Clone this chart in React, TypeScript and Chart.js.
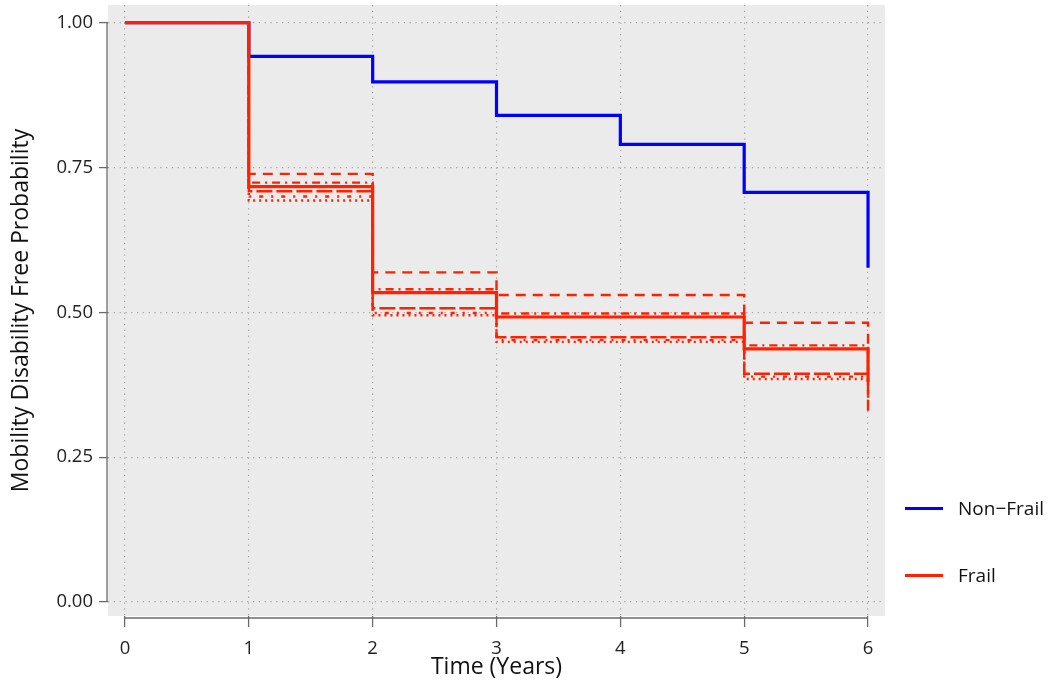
import React, { useEffect, useRef } from 'react';
import { Chart, registerables } from 'chart.js';

Chart.register(...registerables);

// Step times (years)
const nonFrailTimes = [0, 1, 2, 3, 4, 5, 6];
const frailTimes = [0, 1, 2, 3, 5, 6];

// Non-frail survival (mobility-disability-free probability)
const nonFrailValues = [1.0, 0.942, 0.898, 0.84, 0.79, 0.707, 0.577];

// Frail curves (one per line type)
const frailDashed = [1.0, 0.739, 0.569, 0.53, 0.482, 0.43];
const frailDotDash = [1.0, 0.724, 0.54, 0.498, 0.443, 0.4];
const frailSolid = [1.0, 0.717, 0.534, 0.492, 0.437, 0.38];
const frailLongDash = [1.0, 0.709, 0.507, 0.457, 0.394, 0.33];
const frailTwoDash = [1.0, 0.7, 0.499, 0.452, 0.389, 0.36];
const frailDotted = [1.0, 0.693, 0.495, 0.449, 0.385, 0.35];

const xTicks = [0, 1, 2, 3, 4, 5, 6];
const yTicks = [0, 0.25, 0.5, 0.75, 1.0];
const legendLabels = ['Non\u2212Frail', 'Frail'];

const BLUE = '#0000ff';
const RED = '#ff2200';
const FONT = "'Open Sans', sans-serif";

const toPoints = (times: number[], vals: number[]) => times.map((t, i) => ({ x: t, y: vals[i] }));

const panelPlugin = {
  id: 'panelPlugin',
  beforeDraw(chart: any) {
    const { ctx, chartArea: a } = chart;
    ctx.save();
    ctx.fillStyle = '#ebebeb';
    ctx.fillRect(a.left, a.top, a.right - a.left, a.bottom - a.top);
    ctx.restore();
  },
  afterDraw(chart: any) {
    const { ctx, chartArea: a, scales } = chart;
    const xs = scales.x;
    const ys = scales.y;
    ctx.save();
    ctx.strokeStyle = '#6b6b6b';
    ctx.lineWidth = 1.3;
    ctx.beginPath();
    ctx.moveTo(a.left - 1, ys.getPixelForValue(yTicks[yTicks.length - 1]));
    ctx.lineTo(a.left - 1, ys.getPixelForValue(yTicks[0]));
    ctx.moveTo(xs.getPixelForValue(xTicks[0]), a.bottom + 2);
    ctx.lineTo(xs.getPixelForValue(xTicks[xTicks.length - 1]), a.bottom + 2);
    ctx.stroke();
    ctx.restore();
  },
};

export default function App() {
  const canvasRef = useRef<HTMLCanvasElement | null>(null);

  useEffect(() => {
    const canvas = canvasRef.current;
    if (!canvas) return;
    const redLine = (label: string, vals: number[], dash: number[], width: number) => ({
      label,
      data: toPoints(frailTimes, vals),
      borderColor: RED,
      backgroundColor: RED,
      borderWidth: width,
      borderDash: dash,
      borderCapStyle: 'butt',
      stepped: 'before',
      pointRadius: 0,
      fill: false,
    });
    const chart = new Chart(canvas, {
      type: 'line',
      data: {
        datasets: [
          redLine('Frail', frailSolid, [], 3.2),
          redLine('Frail (dashed)', frailDashed, [10, 7], 2.4),
          redLine('Frail (dotdash)', frailDotDash, [2, 5, 8, 5], 2.4),
          redLine('Frail (longdash)', frailLongDash, [16, 4], 2.4),
          redLine('Frail (twodash)', frailTwoDash, [4, 8, 2, 8], 2.4),
          redLine('Frail (dotted)', frailDotted, [2, 4], 2.4),
          {
            label: 'Non-Frail',
            data: toPoints(nonFrailTimes, nonFrailValues),
            borderColor: BLUE,
            backgroundColor: BLUE,
            borderWidth: 3.2,
            stepped: 'before',
            pointRadius: 0,
            fill: false,
          } as any,
        ] as any,
      },
      options: {
        animation: false,
        responsive: false,
        maintainAspectRatio: false,
        layout: { padding: { left: 0, top: 5, right: 165, bottom: 0 } },
        plugins: {
          legend: { display: false },
          tooltip: { enabled: false },
        },
        scales: {
          x: {
            type: 'linear',
            min: -0.137,
            max: 6.137,
            afterBuildTicks: (s: any) => {
              s.ticks = xTicks.map((v) => ({ value: v }));
            },
            afterFit: (s: any) => {
              s.height = 79;
              s.paddingLeft = 0;
              s.paddingRight = 0;
            },
            grid: {
              color: '#a8a8a8',
              lineWidth: 1.2,
              tickColor: '#6b6b6b',
              tickLength: 11,
              tickWidth: 1.3,
              tickBorderDash: [],
            },
            border: { display: false, dash: [1.3, 4.5] },
            ticks: {
              color: '#222',
              font: { family: FONT, size: 18.5 },
              padding: 11,
              maxRotation: 0,
              callback: (v: any) => String(v),
            },
            title: {
              display: true,
              text: 'Time (Years)',
              color: '#111',
              font: { family: FONT, size: 23 },
              padding: { top: 0, bottom: 14 },
            },
          },
          y: {
            type: 'linear',
            min: -0.0242,
            max: 1.0306,
            afterBuildTicks: (s: any) => {
              s.ticks = yTicks.map((v) => ({ value: v }));
            },
            afterFit: (s: any) => {
              s.width = 108;
              s.paddingTop = 0;
              s.paddingBottom = 0;
            },
            grid: {
              color: '#a8a8a8',
              lineWidth: 1.2,
              tickColor: '#6b6b6b',
              tickLength: 9,
              tickWidth: 1.3,
              tickBorderDash: [],
            },
            border: { display: false, dash: [1.3, 4.5] },
            ticks: {
              color: '#222',
              font: { family: FONT, size: 18.5 },
              padding: 6,
              callback: (v: any) => Number(v).toFixed(2),
            },
            title: {
              display: true,
              text: 'Mobility Disability Free Probability',
              color: '#111',
              font: { family: FONT, size: 23 },
              padding: { top: 8, bottom: 0 },
            },
          },
        },
      } as any,
      plugins: [panelPlugin],
    });
    return () => chart.destroy();
  }, []);

  const legendRow = (top: number, color: string, text: string) => (
    <div key={text} style={{ position: 'absolute', left: 905, top, height: 0 }}>
      <div style={{ position: 'absolute', left: 0, top: -1.5, width: 38, height: 3, background: color }} />
      <div
        style={{
          position: 'absolute',
          left: 53,
          top: -14,
          height: 28,
          lineHeight: '28px',
          fontFamily: FONT,
          fontSize: 19,
          color: '#111',
          whiteSpace: 'nowrap',
        }}
      >
        {text}
      </div>
    </div>
  );

  return (
    <div style={{ position: 'absolute', left: 0, top: 0, width: 1050, height: 695, background: '#fff' }}>
      <canvas ref={canvasRef} width={1050} height={695} style={{ width: 1050, height: 695, display: 'block' }} />
      {legendRow(508, BLUE, legendLabels[0])}
      {legendRow(575, RED, legendLabels[1])}
    </div>
  );
}
